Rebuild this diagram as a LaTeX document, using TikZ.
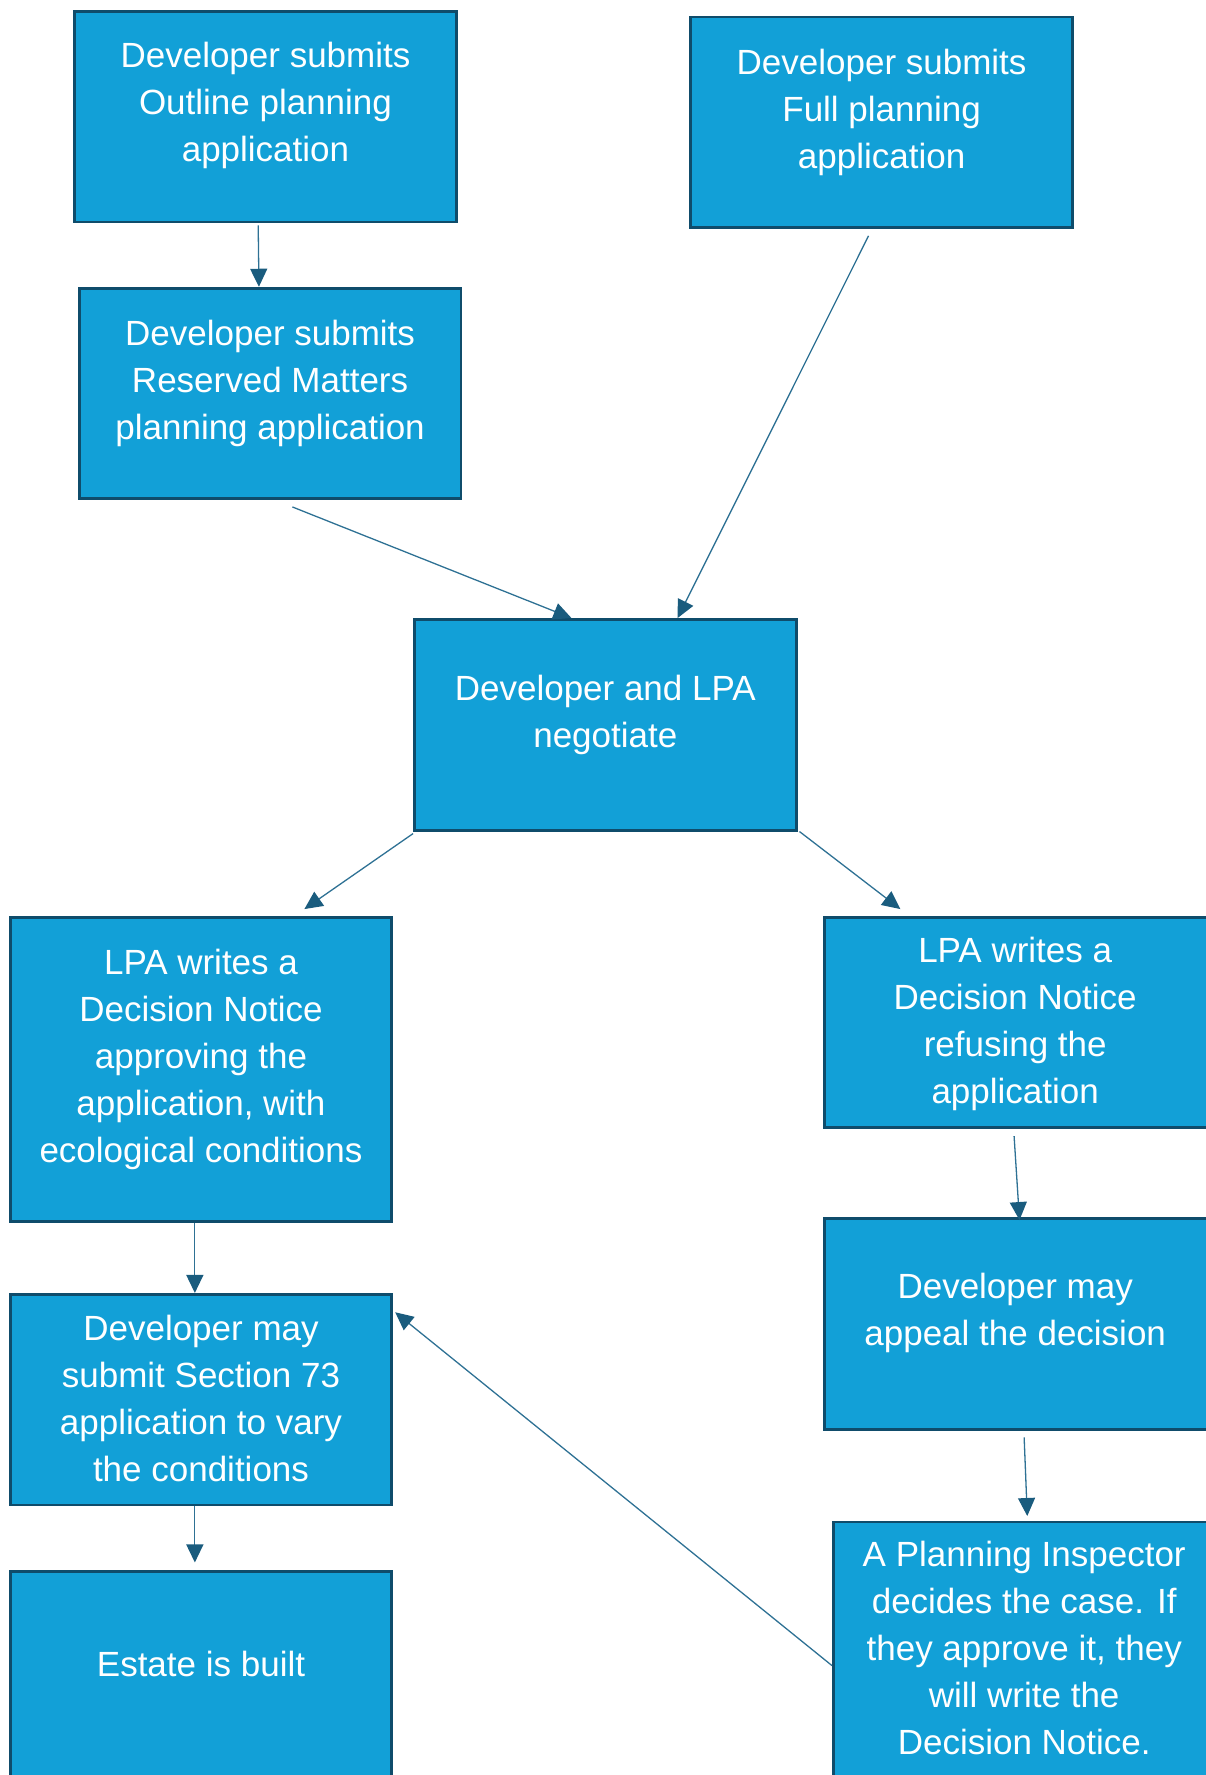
\documentclass[tikz,border=0pt]{standalone}
\usepackage{fontspec}
\setmainfont{Liberation Sans}
\usetikzlibrary{arrows.meta,calc}
\definecolor{boxfill}{HTML}{12A0D7}
\definecolor{boxline}{HTML}{0F4C6B}
\definecolor{arrowc}{HTML}{2E7194}
\definecolor{headc}{HTML}{1A5C7E}
\begin{document}
\begin{tikzpicture}[x=1pt,y=-1pt,
  box/.style={draw=boxline, fill=boxfill, line width=2.8pt, rectangle,
    minimum width=381.6pt, minimum height=210.7pt, inner sep=0pt},
  lbl/.style={text=white, align=center, font=\fontsize{35}{47}\selectfont, inner sep=0pt},
  conn/.style={draw=arrowc, line width=1.3pt,
    -{Triangle[length=18pt,width=17pt,color=headc]}}]
\useasboundingbox (0,0) rectangle (1206,1775);
\clip (0,0) rectangle (1206,1775);

% boxes
\node[box] (b1) at (265.5,116.6) {};
\node[box] (b2) at (881.6,122.3) {};
\node[box] (b3) at (270.1,393.5) {};
\node[box] (b4) at (605.3,724.8) {};
\node[box, minimum height=304.7pt] (b5) at (201,1069.5) {};
\node[box, minimum width=384pt] (b6) at (1016.4,1022.5) {};
\node[box, minimum width=384pt] (b7) at (1016.4,1323.8) {};
\node[box] (b8) at (201,1399.7) {};
\node[box] (b9) at (201,1677.2) {};
\node[box, minimum height=305pt] (b10) at (1024.2,1674.5) {};

% labels
\node[lbl] (t1) at (265.5,105.4) {Developer submits\\Outline planning\\application};
\node[lbl] (t2) at (881.6,112.1) {Developer submits\\Full planning\\application};
\node[lbl] (t3) at (270.1,383.9) {Developer submits\\Reserved Matters\\planning application};
\node[lbl] (t4) at (605.3,715.1) {Developer and LPA\\negotiate};
\node[lbl] (t5) at (201,1059.9) {LPA writes a\\Decision Notice\\approving the\\application, with\\ecological conditions};
\node[lbl] (t6) at (1015.2,1023.7) {LPA writes a\\Decision Notice\\refusing the\\application};
\node[lbl] (t7) at (1015.2,1313) {Developer may\\appeal the decision};
\node[lbl] (t8) at (201,1398) {Developer may\\submit Section 73\\application to vary\\the conditions};
\node[lbl] (t9) at (201,1663.5) {Estate is built};
\node[lbl] (t10) at (1024.2,1648.2) {A Planning Inspector\\decides the case. If\\they approve it, they\\will write the\\Decision Notice.};

% connectors
\draw[conn] ($(b1.south west)!0.481!(b1.south east)+(0,2)$) -- ($(b3.north west)!0.471!(b3.north east)$);
\draw[conn] ($(b3.south west)!0.558!(b3.south east)+(0,6.7)$) -- ($(b4.north west)!0.412!(b4.north east)$);
\draw[conn] ($(b2.south west)!0.466!(b2.south east)+(0,6.8)$) -- ($(b4.north west)!0.688!(b4.north east)$);
\draw[conn] ($(b4.south west)+(0,2)$) -- ($(b5.north west)!0.769!(b5.north east)+(0,-6.7)$);
\draw[conn] ($(b4.south east)+(2,0)$) -- ($(b6.north west)!0.2!(b6.north east)+(0,-6.7)$);
\draw[conn] ($(b5.south west)!0.484!(b5.south east)$) -- ($(b8.north west)!0.484!(b8.north east)$);
\draw[conn] ($(b6.south west)!0.494!(b6.south east)+(0,6.8)$) -- ($(b7.north west)!0.508!(b7.north east)+(0,3)$);
\draw[conn] ($(b7.south west)!0.52!(b7.south east)+(0,6.8)$) -- ($(b10.north west)!0.508!(b10.north east)+(0,-4.6)$);
\draw[conn] ($(b10.north west)+(0,145)$) -- ($(b8.north east)+(2,19.3)$);
\draw[conn] ($(b8.south west)!0.484!(b8.south east)$) -- ($(b9.north west)!0.484!(b9.north east)+(0,-8)$);
\end{tikzpicture}
\end{document}
